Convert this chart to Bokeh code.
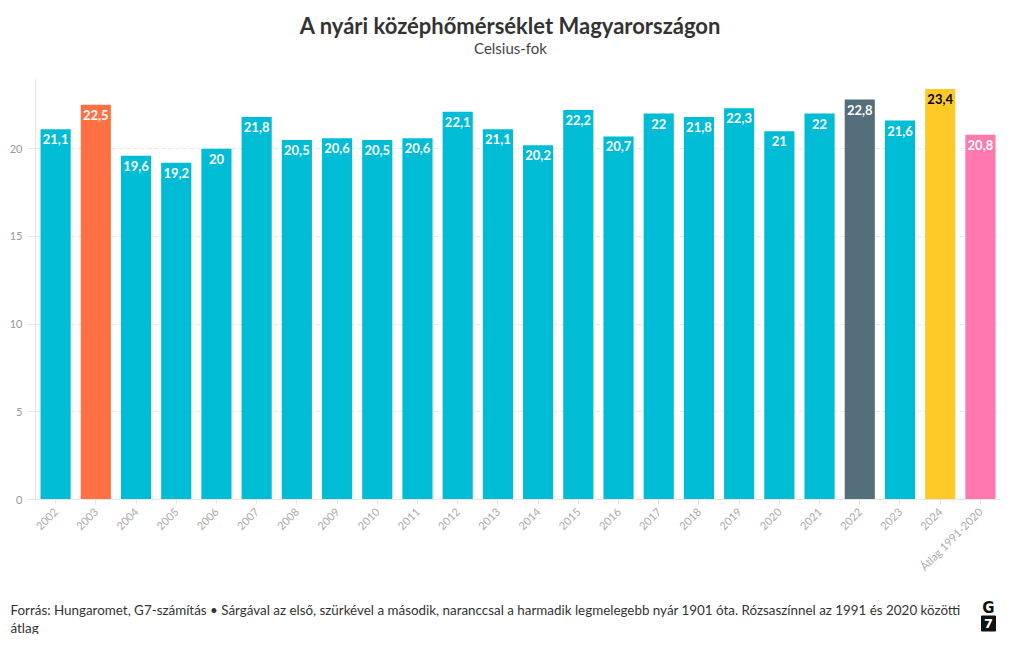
from bokeh.plotting import figure
from bokeh.layouts import column
from bokeh.models import ColumnDataSource, Range1d, FactorRange, LabelSet, SingleIntervalTicker
from bokeh.core.properties import value
from bokeh.embed import file_html
from bokeh.resources import INLINE
from math import pi

categories = ["2002", "2003", "2004", "2005", "2006", "2007", "2008", "2009", "2010", "2011",
              "2012", "2013", "2014", "2015", "2016", "2017", "2018", "2019", "2020", "2021",
              "2022", "2023", "2024", "Átlag 1991-2020"]
values = [21.1, 22.5, 19.6, 19.2, 20.0, 21.8, 20.5, 20.6, 20.5, 20.6,
          22.1, 21.1, 20.2, 22.2, 20.7, 22.0, 21.8, 22.3, 21.0, 22.0,
          22.8, 21.6, 23.4, 20.8]
highlight = {"2003": "#FF7043", "2022": "#546E7A", "2024": "#FFCA28", "Átlag 1991-2020": "#FF78AE"}
base_color = "#00BCD4"

title_text = "A nyári középhőmérséklet Magyarországon"
subtitle_text = "Celsius-fok"
footer_line1 = "Forrás: Hungaromet, G7-számítás • Sárgával az első, szürkével a második, naranccsal a harmadik legmelegebb nyár 1901 óta. Rózsaszínnel az 1991 és 2020 közötti"
footer_line2 = "átlag"

FONT = "Lato"

def fmt(v):
    s = ("%.1f" % v).rstrip("0").rstrip(".")
    return s.replace(".", ",")

colors = [highlight.get(c, base_color) for c in categories]
label_colors = ["#000000" if c == "2024" else "#FFFFFF" for c in categories]
labels = [fmt(v) for v in values]

src = ColumnDataSource(dict(cat=categories, val=values, color=colors, lab=labels, lcol=label_colors))

W = 1004
HEAD_H, MAIN_H, FOOT_H = 78, 512, 44
FRAME_H = 421
FL, FR = 35, 1000  # main chart frame left/right edges (canvas px)


def blank(height):
    # full-canvas frame, not aligned to the main chart, so x data == canvas px
    f = figure(width=W, height=height, x_range=Range1d(0, W), y_range=Range1d(height, 0),
               x_axis_type=None, y_axis_type=None, output_backend="svg", toolbar_location=None,
               min_border=0, frame_align=False)
    f.outline_line_color = None
    f.xgrid.grid_line_color = None
    f.ygrid.grid_line_color = None
    return f

# header
head = blank(HEAD_H)
head.text(x=[510], y=[25], text=[title_text], text_align="center", text_baseline="middle",
          text_font=value(FONT), text_font_size="22px", text_font_style="bold", text_color="#333333")
head.text(x=[510], y=[47], text=[subtitle_text], text_align="center", text_baseline="middle",
          text_font=value(FONT), text_font_size="15px", text_color="#444444")

# main chart
p = figure(x_range=FactorRange(factors=categories), y_range=Range1d(0, 24),
           width=W, height=MAIN_H, output_backend="svg", toolbar_location=None,
           min_border_left=FL, min_border_right=W - FR, min_border_top=0,
           min_border_bottom=MAIN_H - FRAME_H)
p.outline_line_color = None

p.vbar(x="cat", top="val", width=0.75, color="color", source=src, line_color=None)

ls = LabelSet(x="cat", y="val", text="lab", source=src, text_color="lcol",
              text_align="center", text_baseline="top", y_offset=-5,
              text_font_size=value("13px"), text_font_style=value("bold"), text_font=value(FONT))
p.add_layout(ls)

p.xgrid.grid_line_color = None
p.ygrid.grid_line_color = "#e6e6e6"
p.ygrid.grid_line_dash = "4 3"
p.yaxis.ticker = SingleIntervalTicker(interval=5)
p.yaxis.axis_line_color = "#e6e6e6"
p.yaxis.major_tick_line_color = "#e6e6e6"
p.yaxis.major_tick_in = 0
p.yaxis.major_tick_out = 8
p.yaxis.minor_tick_line_color = None
p.yaxis.major_label_text_color = "#999999"
p.yaxis.major_label_text_font_size = "11px"
p.yaxis.major_label_text_font = FONT

p.xaxis.axis_line_color = "#e6e6e6"
p.xaxis.major_tick_line_color = "#e6e6e6"
p.xaxis.major_tick_in = 0
p.xaxis.major_tick_out = 5
p.xaxis.major_label_orientation = pi / 4
p.xaxis.major_label_text_color = "#aaaaaa"
p.xaxis.major_label_text_font_size = "11px"
p.xaxis.major_label_text_font = FONT

# footer
foot = blank(FOOT_H)
foot.text(x=[10, 10], y=[19, 37], text=[footer_line1, footer_line2], text_align="left",
          text_baseline="middle", text_font=value(FONT), text_font_size="13.4px", text_color="#333333")
foot.text(x=[988], y=[17], text=["G"], text_align="center", text_baseline="middle",
          text_font=value("DejaVu Sans"), text_font_size="15px", text_font_style="bold",
          text_color="#111111")
foot.rect(x=[988], y=[33], width=[14], height=[15], color="#111111")
foot.text(x=[988], y=[33], text=["7"], text_align="center", text_baseline="middle",
          text_font=value("DejaVu Sans"), text_font_size="13px", text_font_style="bold",
          text_color="#ffffff")

layout = column(head, p, foot, spacing=0)
open("out.html", "w").write(file_html(layout, INLINE))
